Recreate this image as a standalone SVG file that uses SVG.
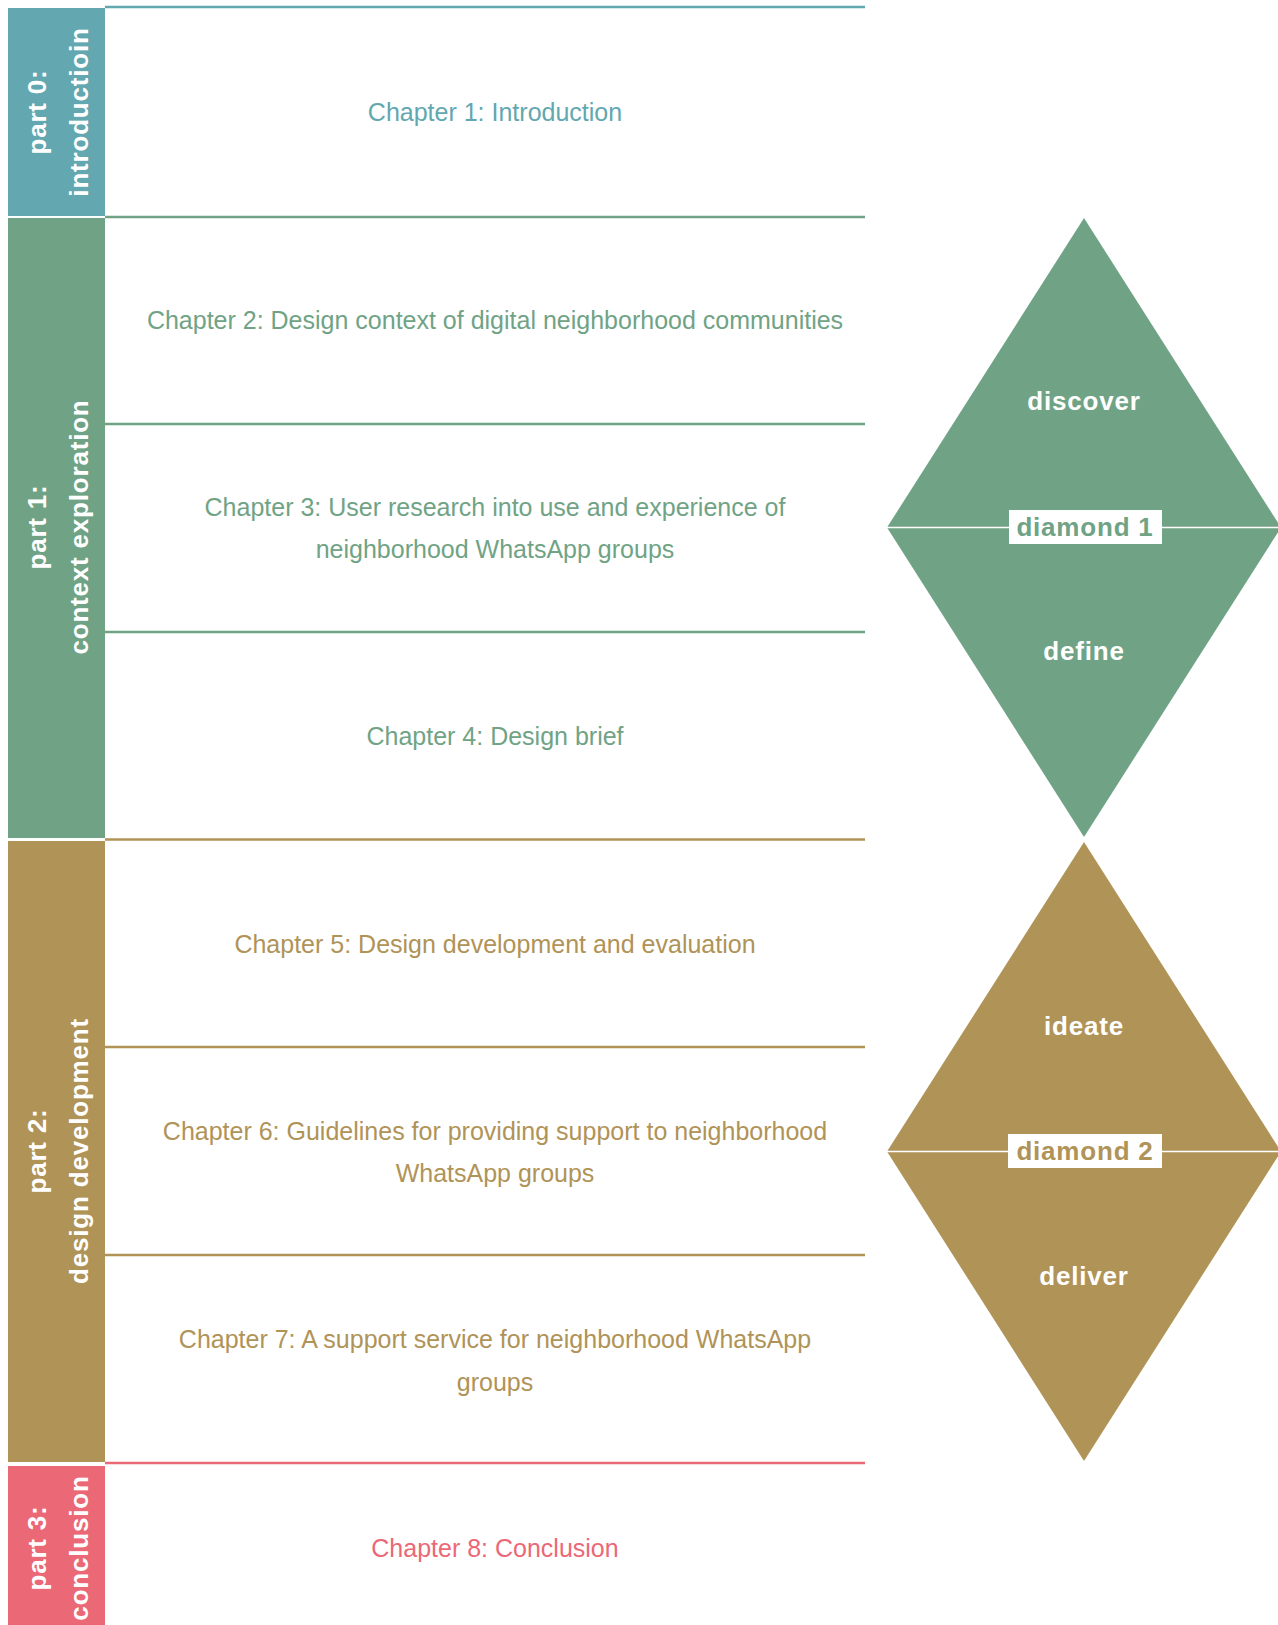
<svg xmlns="http://www.w3.org/2000/svg" width="1278" height="1625" viewBox="0 0 1278 1625">
<style>
.side{font-family:"Liberation Sans",Arial,sans-serif;font-weight:bold;font-size:26px;letter-spacing:0.8px;fill:#ffffff;text-anchor:middle}
.ch{font-family:"Liberation Sans",Arial,sans-serif;font-size:25px;text-anchor:middle}
.dl{font-family:"Liberation Sans",Arial,sans-serif;font-weight:bold;font-size:26px;letter-spacing:0.8px;fill:#ffffff;text-anchor:middle}
.dlab{font-family:"Liberation Sans",Arial,sans-serif;font-weight:bold;font-size:26px;letter-spacing:0.8px;text-anchor:middle}
.blue{fill:#63a7b0}.green{fill:#70a385}.gold{fill:#b09357}.pink{fill:#eb6876}
.lblue{stroke:#63a7b0}.lgreen{stroke:#70a385}.lgold{stroke:#b09357}.lpink{stroke:#eb6876}
.div{stroke-width:2.5;fill:none}
.mid{stroke:#ffffff;stroke-width:1.5}
</style>
<rect width="1278" height="1625" fill="#ffffff"/>

<g id="part0">
<rect x="8" y="8" width="97" height="208" class="blue"/>
<text class="side" transform="translate(46,112) rotate(-90)">part 0:</text>
<text class="side" transform="translate(88,112) rotate(-90)">introductioin</text>
</g>
<g id="part1">
<rect x="8" y="218" width="97" height="620" class="green"/>
<text class="side" transform="translate(46,527) rotate(-90)">part 1:</text>
<text class="side" transform="translate(88,527) rotate(-90)">context exploration</text>
</g>
<g id="part2">
<rect x="8" y="841" width="97" height="621" class="gold"/>
<text class="side" transform="translate(46,1151) rotate(-90)">part 2:</text>
<text class="side" transform="translate(88,1151) rotate(-90)">design development</text>
</g>
<g id="part3">
<rect x="8" y="1466" width="97" height="159" class="pink"/>
<text class="side" transform="translate(46,1548) rotate(-90)">part 3:</text>
<text class="side" transform="translate(88,1548) rotate(-90)">conclusion</text>
</g>

<g id="dividers">
<line x1="105" y1="7" x2="865" y2="7" class="div lblue"/>
<line x1="105" y1="217" x2="865" y2="217" class="div lgreen"/>
<line x1="105" y1="424" x2="865" y2="424" class="div lgreen"/>
<line x1="105" y1="632" x2="865" y2="632" class="div lgreen"/>
<line x1="105" y1="839.5" x2="865" y2="839.5" class="div lgold"/>
<line x1="105" y1="1047" x2="865" y2="1047" class="div lgold"/>
<line x1="105" y1="1255" x2="865" y2="1255" class="div lgold"/>
<line x1="105" y1="1463" x2="865" y2="1463" class="div lpink"/>
</g>

<g id="ch1"><text class="ch blue" x="495" y="121">Chapter 1: Introduction</text></g>
<g id="ch2"><text class="ch green" x="495" y="329">Chapter 2: Design context of digital neighborhood communities</text></g>
<g id="ch3"><text class="ch green" x="495" y="516">Chapter 3: User research into use and experience of</text><text class="ch green" x="495" y="558">neighborhood WhatsApp groups</text></g>
<g id="ch4"><text class="ch green" x="495" y="745">Chapter 4: Design brief</text></g>
<g id="ch5"><text class="ch gold" x="495" y="953">Chapter 5: Design development and evaluation</text></g>
<g id="ch6"><text class="ch gold" x="495" y="1140">Chapter 6: Guidelines for providing support to neighborhood</text><text class="ch gold" x="495" y="1182">WhatsApp groups</text></g>
<g id="ch7"><text class="ch gold" x="495" y="1348">Chapter 7: A support service for neighborhood WhatsApp</text><text class="ch gold" x="495" y="1391">groups</text></g>
<g id="ch8"><text class="ch pink" x="495" y="1557">Chapter 8: Conclusion</text></g>

<g id="diamond1">
<polygon points="1084,218 1281,527.5 1084,837 887,527.5" class="green"/>
<line x1="887" y1="527.5" x2="1278" y2="527.5" class="mid"/>
<text class="dl" x="1084" y="410">discover</text>
<text class="dl" x="1084" y="660">define</text>
<rect x="1009" y="510" width="153" height="34" fill="#ffffff"/>
<text class="dlab green" x="1085" y="536">diamond 1</text>
</g>
<g id="diamond2">
<polygon points="1084,842 1281,1151.5 1084,1461 887,1151.5" class="gold"/>
<line x1="887" y1="1151.5" x2="1278" y2="1151.5" class="mid"/>
<text class="dl" x="1084" y="1035">ideate</text>
<text class="dl" x="1084" y="1285">deliver</text>
<rect x="1008" y="1134" width="154" height="34" fill="#ffffff"/>
<text class="dlab gold" x="1085" y="1160">diamond 2</text>
</g>
</svg>
